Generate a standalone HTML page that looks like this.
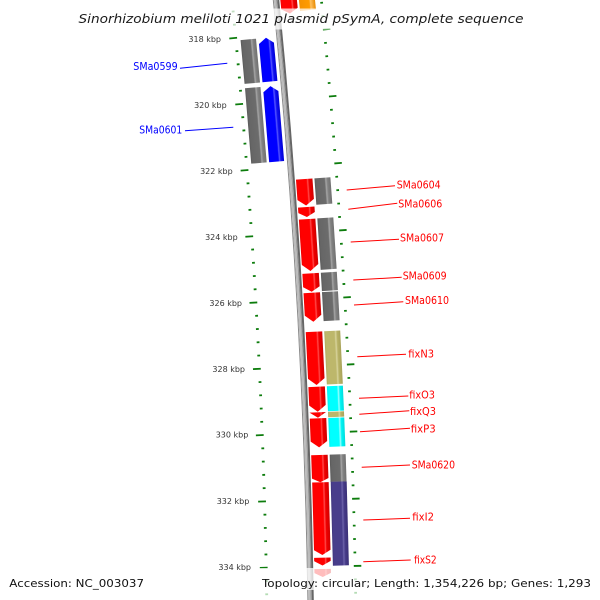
<!DOCTYPE html>
<html><head><meta charset="utf-8"><style>
html,body{margin:0;padding:0;background:#fff;width:600px;height:600px;overflow:hidden;}
svg{display:block;overflow:hidden;}
</style></head><body>
<svg width="600" height="600" viewBox="0 0 600 600" xmlns="http://www.w3.org/2000/svg">
<defs>
<clipPath id="frame"><rect x="0" y="0" width="600" height="600"/></clipPath>
<linearGradient id="gR" x1="0" y1="0" x2="1" y2="0"><stop offset="0" stop-color="#ee0000"/><stop offset="0.08" stop-color="#ff0000"/><stop offset="0.62" stop-color="#ff0000"/><stop offset="0.7" stop-color="#ff4d4d"/><stop offset="0.78" stop-color="#f00000"/><stop offset="1" stop-color="#d00000"/></linearGradient>
<linearGradient id="gG" x1="0" y1="0" x2="1" y2="0"><stop offset="0" stop-color="#5a5a5a"/><stop offset="0.1" stop-color="#666"/><stop offset="0.62" stop-color="#6c6c6c"/><stop offset="0.7" stop-color="#a6a6a6"/><stop offset="0.8" stop-color="#828282"/><stop offset="1" stop-color="#707070"/></linearGradient>
<linearGradient id="gB" x1="0" y1="0" x2="1" y2="0"><stop offset="0" stop-color="#0000e6"/><stop offset="0.1" stop-color="#0000ff"/><stop offset="0.62" stop-color="#0000ff"/><stop offset="0.7" stop-color="#5858ff"/><stop offset="0.8" stop-color="#1010f0"/><stop offset="1" stop-color="#0000d6"/></linearGradient>
<linearGradient id="gK" x1="0" y1="0" x2="1" y2="0"><stop offset="0" stop-color="#b0aa5e"/><stop offset="0.1" stop-color="#bdb76b"/><stop offset="0.62" stop-color="#bdb76b"/><stop offset="0.7" stop-color="#d8d49c"/><stop offset="0.8" stop-color="#b8b266"/><stop offset="1" stop-color="#a9a35a"/></linearGradient>
<linearGradient id="gC" x1="0" y1="0" x2="1" y2="0"><stop offset="0" stop-color="#00eeee"/><stop offset="0.1" stop-color="#00ffff"/><stop offset="0.62" stop-color="#00ffff"/><stop offset="0.7" stop-color="#9effff"/><stop offset="0.8" stop-color="#00f4f4"/><stop offset="1" stop-color="#00dcdc"/></linearGradient>
<linearGradient id="gP" x1="0" y1="0" x2="1" y2="0"><stop offset="0" stop-color="#40367e"/><stop offset="0.1" stop-color="#483d8b"/><stop offset="0.62" stop-color="#483d8b"/><stop offset="0.7" stop-color="#6c63aa"/><stop offset="0.8" stop-color="#463b88"/><stop offset="1" stop-color="#3a3076"/></linearGradient>
<linearGradient id="gO" x1="0" y1="0" x2="1" y2="0"><stop offset="0" stop-color="#f59200"/><stop offset="0.62" stop-color="#ff9c00"/><stop offset="0.7" stop-color="#ffc060"/><stop offset="1" stop-color="#e88a00"/></linearGradient>
</defs>
<rect x="0" y="0" width="600" height="600" fill="#fff"/>

<g clip-path="url(#frame)">
<g transform="translate(-6883.2,713.7)">
  <!-- backbone (arcs limited to visible range) -->
  <g fill="none">
    <path d="M7156.50,-713.7 A7192,7192 0 0 1 7191.10,-113.7" stroke="#8a8a8a" stroke-width="1"/>
    <path d="M7158.11,-713.7 A7193.6,7193.6 0 0 1 7192.70,-113.7" stroke="#bcbcbc" stroke-width="2.2"/>
    <path d="M7159.82,-713.7 A7195.3,7195.3 0 0 1 7194.40,-113.7" stroke="#999999" stroke-width="1.2"/>
    <path d="M7161.43,-713.7 A7196.9,7196.9 0 0 1 7196.00,-113.7" stroke="#666666" stroke-width="2"/>
  </g>

  <!-- ticks -->
  <g fill="#0c7c0c">
    <g transform="rotate(-5.6356)"><rect x="7149.5" y="-0.9" width="2.8" height="1.8"/><rect x="7238.5" y="-0.9" width="2.7" height="1.8"/></g>
    <g transform="rotate(-5.5293)"><rect x="7149.5" y="-0.9" width="2.8" height="1.8"/><rect x="7238.5" y="-0.9" width="2.7" height="1.8"/></g>
    <g transform="rotate(-5.4229)"><rect x="7144.5" y="-0.9" width="7.8" height="1.8"/><rect x="7238.5" y="-0.9" width="7.5" height="1.8"/></g>
    <g transform="rotate(-5.3166)"><rect x="7149.5" y="-0.9" width="2.8" height="1.8"/><rect x="7238.5" y="-0.9" width="2.7" height="1.8"/></g>
    <g transform="rotate(-5.2103)"><rect x="7149.5" y="-0.9" width="2.8" height="1.8"/><rect x="7238.5" y="-0.9" width="2.7" height="1.8"/></g>
    <g transform="rotate(-5.1039)"><rect x="7149.5" y="-0.9" width="2.8" height="1.8"/><rect x="7238.5" y="-0.9" width="2.7" height="1.8"/></g>
    <g transform="rotate(-4.9976)"><rect x="7149.5" y="-0.9" width="2.8" height="1.8"/><rect x="7238.5" y="-0.9" width="2.7" height="1.8"/></g>
    <g transform="rotate(-4.8913)"><rect x="7144.5" y="-0.9" width="7.8" height="1.8"/><rect x="7238.5" y="-0.9" width="7.5" height="1.8"/></g>
    <g transform="rotate(-4.7849)"><rect x="7149.5" y="-0.9" width="2.8" height="1.8"/><rect x="7238.5" y="-0.9" width="2.7" height="1.8"/></g>
    <g transform="rotate(-4.6786)"><rect x="7149.5" y="-0.9" width="2.8" height="1.8"/><rect x="7238.5" y="-0.9" width="2.7" height="1.8"/></g>
    <g transform="rotate(-4.5723)"><rect x="7149.5" y="-0.9" width="2.8" height="1.8"/><rect x="7238.5" y="-0.9" width="2.7" height="1.8"/></g>
    <g transform="rotate(-4.4659)"><rect x="7149.5" y="-0.9" width="2.8" height="1.8"/><rect x="7238.5" y="-0.9" width="2.7" height="1.8"/></g>
    <g transform="rotate(-4.3596)"><rect x="7144.5" y="-0.9" width="7.8" height="1.8"/><rect x="7238.5" y="-0.9" width="7.5" height="1.8"/></g>
    <g transform="rotate(-4.2533)"><rect x="7149.5" y="-0.9" width="2.8" height="1.8"/><rect x="7238.5" y="-0.9" width="2.7" height="1.8"/></g>
    <g transform="rotate(-4.1469)"><rect x="7149.5" y="-0.9" width="2.8" height="1.8"/><rect x="7238.5" y="-0.9" width="2.7" height="1.8"/></g>
    <g transform="rotate(-4.0406)"><rect x="7149.5" y="-0.9" width="2.8" height="1.8"/><rect x="7238.5" y="-0.9" width="2.7" height="1.8"/></g>
    <g transform="rotate(-3.9343)"><rect x="7149.5" y="-0.9" width="2.8" height="1.8"/><rect x="7238.5" y="-0.9" width="2.7" height="1.8"/></g>
    <g transform="rotate(-3.8279)"><rect x="7144.5" y="-0.9" width="7.8" height="1.8"/><rect x="7238.5" y="-0.9" width="7.5" height="1.8"/></g>
    <g transform="rotate(-3.7216)"><rect x="7149.5" y="-0.9" width="2.8" height="1.8"/><rect x="7238.5" y="-0.9" width="2.7" height="1.8"/></g>
    <g transform="rotate(-3.6153)"><rect x="7149.5" y="-0.9" width="2.8" height="1.8"/><rect x="7238.5" y="-0.9" width="2.7" height="1.8"/></g>
    <g transform="rotate(-3.5089)"><rect x="7149.5" y="-0.9" width="2.8" height="1.8"/><rect x="7238.5" y="-0.9" width="2.7" height="1.8"/></g>
    <g transform="rotate(-3.4026)"><rect x="7149.5" y="-0.9" width="2.8" height="1.8"/><rect x="7238.5" y="-0.9" width="2.7" height="1.8"/></g>
    <g transform="rotate(-3.2963)"><rect x="7144.5" y="-0.9" width="7.8" height="1.8"/><rect x="7238.5" y="-0.9" width="7.5" height="1.8"/></g>
    <g transform="rotate(-3.1899)"><rect x="7149.5" y="-0.9" width="2.8" height="1.8"/><rect x="7238.5" y="-0.9" width="2.7" height="1.8"/></g>
    <g transform="rotate(-3.0836)"><rect x="7149.5" y="-0.9" width="2.8" height="1.8"/><rect x="7238.5" y="-0.9" width="2.7" height="1.8"/></g>
    <g transform="rotate(-2.9773)"><rect x="7149.5" y="-0.9" width="2.8" height="1.8"/><rect x="7238.5" y="-0.9" width="2.7" height="1.8"/></g>
    <g transform="rotate(-2.8709)"><rect x="7149.5" y="-0.9" width="2.8" height="1.8"/><rect x="7238.5" y="-0.9" width="2.7" height="1.8"/></g>
    <g transform="rotate(-2.7646)"><rect x="7144.5" y="-0.9" width="7.8" height="1.8"/><rect x="7238.5" y="-0.9" width="7.5" height="1.8"/></g>
    <g transform="rotate(-2.6583)"><rect x="7149.5" y="-0.9" width="2.8" height="1.8"/><rect x="7238.5" y="-0.9" width="2.7" height="1.8"/></g>
    <g transform="rotate(-2.5519)"><rect x="7149.5" y="-0.9" width="2.8" height="1.8"/><rect x="7238.5" y="-0.9" width="2.7" height="1.8"/></g>
    <g transform="rotate(-2.4456)"><rect x="7149.5" y="-0.9" width="2.8" height="1.8"/><rect x="7238.5" y="-0.9" width="2.7" height="1.8"/></g>
    <g transform="rotate(-2.3393)"><rect x="7149.5" y="-0.9" width="2.8" height="1.8"/><rect x="7238.5" y="-0.9" width="2.7" height="1.8"/></g>
    <g transform="rotate(-2.2329)"><rect x="7144.5" y="-0.9" width="7.8" height="1.8"/><rect x="7238.5" y="-0.9" width="7.5" height="1.8"/></g>
    <g transform="rotate(-2.1266)"><rect x="7149.5" y="-0.9" width="2.8" height="1.8"/><rect x="7238.5" y="-0.9" width="2.7" height="1.8"/></g>
    <g transform="rotate(-2.0203)"><rect x="7149.5" y="-0.9" width="2.8" height="1.8"/><rect x="7238.5" y="-0.9" width="2.7" height="1.8"/></g>
    <g transform="rotate(-1.9139)"><rect x="7149.5" y="-0.9" width="2.8" height="1.8"/><rect x="7238.5" y="-0.9" width="2.7" height="1.8"/></g>
    <g transform="rotate(-1.8076)"><rect x="7149.5" y="-0.9" width="2.8" height="1.8"/><rect x="7238.5" y="-0.9" width="2.7" height="1.8"/></g>
    <g transform="rotate(-1.7013)"><rect x="7144.5" y="-0.9" width="7.8" height="1.8"/><rect x="7238.5" y="-0.9" width="7.5" height="1.8"/></g>
    <g transform="rotate(-1.5949)"><rect x="7149.5" y="-0.9" width="2.8" height="1.8"/><rect x="7238.5" y="-0.9" width="2.7" height="1.8"/></g>
    <g transform="rotate(-1.4886)"><rect x="7149.5" y="-0.9" width="2.8" height="1.8"/><rect x="7238.5" y="-0.9" width="2.7" height="1.8"/></g>
    <g transform="rotate(-1.3823)"><rect x="7149.5" y="-0.9" width="2.8" height="1.8"/><rect x="7238.5" y="-0.9" width="2.7" height="1.8"/></g>
    <g transform="rotate(-1.2759)"><rect x="7149.5" y="-0.9" width="2.8" height="1.8"/><rect x="7238.5" y="-0.9" width="2.7" height="1.8"/></g>
    <g transform="rotate(-1.1696)"><rect x="7144.5" y="-0.9" width="7.8" height="1.8"/><rect x="7238.5" y="-0.9" width="7.5" height="1.8"/></g>
    <g transform="rotate(-1.0633)"><rect x="7149.5" y="-0.9" width="2.8" height="1.8"/><rect x="7238.5" y="-0.9" width="2.7" height="1.8"/></g>
    <g transform="rotate(-0.9569)" fill="#b4dcb4"><rect x="7149.5" y="-0.9" width="2.8" height="1.8"/><rect x="7238.5" y="-0.9" width="2.7" height="1.8"/></g>
  </g>

  <!-- top gene (partially visible) -->
  <g transform="rotate(-5.7084)">
    <polygon fill="url(#gR)" points="7199,-16.75 7215.5,-16.75 7215.5,11.75 7207.25,16.75 7199,11.75"/>
    <rect fill="url(#gO)" x="7217.5" y="-16.75" width="16" height="32"/>
  </g>

  <!-- inner (reverse strand) genes -->
  <g transform="rotate(-5.2254)">
    <rect fill="url(#gG)" x="7155.5" y="-22" width="15.5" height="44"/>
    <polygon fill="url(#gB)" points="7173.5,22 7188.5,22 7188.5,-16.5 7181,-22 7173.5,-16.5"/>
  </g>
  <g transform="rotate(-4.7116)">
    <rect fill="url(#gG)" x="7155.5" y="-37.85" width="15.5" height="75.7"/>
    <polygon fill="url(#gB)" points="7173.5,37.85 7188.5,37.85 7188.5,-32.35 7181,-37.85 7173.5,-32.35"/>
  </g>

  <!-- outer (forward strand) genes -->
  <g transform="rotate(-4.1486)">
    <polygon fill="url(#gR)" points="7199,-13.25 7215.5,-13.25 7215.5,7.25 7207.25,13.25 7199,7.25"/>
    <rect fill="url(#gG)" x="7217.5" y="-13.25" width="16" height="26.5"/>
  </g>
  <g transform="rotate(-3.9912)">
    <polygon fill="url(#gR)" points="7199,-5 7215.5,-5 7215.5,0.5 7207.25,5 7199,0.5"/>
  </g>
  <g transform="rotate(-3.7283)">
    <polygon fill="url(#gR)" points="7199,-26 7215.5,-26 7215.5,19.5 7207.25,26 7199,19.5"/>
    <rect fill="url(#gG)" x="7217.5" y="-26" width="16" height="51.5"/>
  </g>
  <g transform="rotate(-3.4296)">
    <polygon fill="url(#gR)" points="7199,-9.2 7215.5,-9.2 7215.5,4.2 7207.25,9.2 7199,4.2"/>
    <rect fill="url(#gG)" x="7217.5" y="-9.2" width="16" height="18.4"/>
  </g>
  <g transform="rotate(-3.2330)">
    <polygon fill="url(#gR)" points="7199,-14.5 7215.5,-14.5 7215.5,8 7207.25,14.5 7199,8"/>
    <rect fill="url(#gG)" x="7217.5" y="-14.5" width="16" height="29"/>
  </g>
  <g transform="rotate(-2.8258)">
    <polygon fill="url(#gR)" points="7199,-26.65 7215.5,-26.65 7215.5,20.15 7207.25,26.65 7199,20.15"/>
    <rect fill="url(#gK)" x="7217.5" y="-26.65" width="16" height="53.3"/>
  </g>
  <g transform="rotate(-2.5007)">
    <polygon fill="url(#gR)" points="7199,-12.5 7215.5,-12.5 7215.5,6 7207.25,12.5 7199,6"/>
    <rect fill="url(#gC)" x="7217.5" y="-12.5" width="16" height="25"/>
  </g>
  <g transform="rotate(-2.3750)">
    <polygon fill="url(#gR)" points="7199,-2.75 7215.5,-2.75 7207.25,2.75"/>
    <rect fill="url(#gK)" x="7217.5" y="-2.7" width="16" height="5.4"/>
  </g>
  <g transform="rotate(-2.2334)">
    <polygon fill="url(#gR)" points="7199,-14.5 7215.5,-14.5 7215.5,8.5 7207.25,14.5 7199,8.5"/>
    <rect fill="url(#gC)" x="7217.5" y="-14.5" width="16" height="29"/>
  </g>
  <g transform="rotate(-1.9483)">
    <polygon fill="url(#gR)" points="7199,-13.65 7215.5,-13.65 7215.5,9.65 7207.25,13.65 7199,9.65"/>
    <rect fill="url(#gG)" x="7217.5" y="-13.65" width="16" height="27.3"/>
  </g>
  <g transform="rotate(-1.5081)">
    <rect fill="url(#gP)" x="7217.5" y="-42" width="16" height="84"/>
  </g>
  <g transform="rotate(-1.5506)">
    <polygon fill="url(#gR)" points="7199,-36.35 7215.5,-36.35 7215.5,31.35 7207.25,36.35 7199,31.35"/>
  </g>
  <g transform="rotate(-1.2091)">
    <polygon fill="url(#gR)" points="7199,-3.9 7215.5,-3.9 7215.5,-0.6 7207.25,3.9 7199,-0.6"/>
  </g>
  <g transform="rotate(-1.1185)">
    <polygon fill="url(#gR)" points="7199,-4 7215.5,-4 7215.5,0 7207.25,4 7199,0"/>
  </g>
</g>
</g>

<!-- label lines -->
<g stroke="#ff0000" stroke-width="1" fill="none">
  <line x1="346.7" y1="190" x2="395" y2="185.7"/>
  <line x1="348.3" y1="209.3" x2="397.3" y2="203.3"/>
  <line x1="350.7" y1="242" x2="399" y2="239.3"/>
  <line x1="353.3" y1="280" x2="401.7" y2="277.3"/>
  <line x1="354" y1="305" x2="403.3" y2="301.7"/>
  <line x1="357.3" y1="356.7" x2="406" y2="354.3"/>
  <line x1="359" y1="398.3" x2="408.3" y2="396"/>
  <line x1="359.3" y1="414.3" x2="409.3" y2="410.7"/>
  <line x1="360" y1="431.7" x2="410" y2="428.3"/>
  <line x1="361.7" y1="467.3" x2="410" y2="465"/>
  <line x1="363.3" y1="520" x2="410" y2="518.3"/>
  <line x1="363.3" y1="561.7" x2="410.7" y2="560"/>
</g>
<g stroke="#0000ff" stroke-width="1" fill="none">
  <line x1="180" y1="68.3" x2="227.3" y2="63.3"/>
  <line x1="185" y1="130.7" x2="233.3" y2="127.3"/>
</g>

<!-- feature labels -->
<g font-family="DejaVu Sans, Liberation Sans, sans-serif" font-size="10.5" fill="#ff0000">
  <text x="396.7" y="188.3" textLength="44" lengthAdjust="spacingAndGlyphs">SMa0604</text>
  <text x="398.3" y="207.3" textLength="44" lengthAdjust="spacingAndGlyphs">SMa0606</text>
  <text x="400" y="241.7" textLength="44" lengthAdjust="spacingAndGlyphs">SMa0607</text>
  <text x="402.7" y="279.3" textLength="44" lengthAdjust="spacingAndGlyphs">SMa0609</text>
  <text x="405" y="304" textLength="44" lengthAdjust="spacingAndGlyphs">SMa0610</text>
  <text x="408.3" y="357.3" textLength="25.7" lengthAdjust="spacingAndGlyphs">fixN3</text>
  <text x="409.3" y="398.3" textLength="25.7" lengthAdjust="spacingAndGlyphs">fixO3</text>
  <text x="410" y="414.8" textLength="26" lengthAdjust="spacingAndGlyphs">fixQ3</text>
  <text x="410.7" y="432.3" textLength="25" lengthAdjust="spacingAndGlyphs">fixP3</text>
  <text x="411.7" y="468.3" textLength="43.3" lengthAdjust="spacingAndGlyphs">SMa0620</text>
  <text x="412.3" y="520.7" textLength="21.7" lengthAdjust="spacingAndGlyphs">fixI2</text>
  <text x="414" y="563.3" textLength="22.7" lengthAdjust="spacingAndGlyphs">fixS2</text>
</g>
<g font-family="DejaVu Sans, Liberation Sans, sans-serif" font-size="10.5" fill="#0000ff">
  <text x="133.3" y="70" textLength="44.4" lengthAdjust="spacingAndGlyphs">SMa0599</text>
  <text x="139.3" y="133.3" textLength="43" lengthAdjust="spacingAndGlyphs">SMa0601</text>
</g>

<!-- tick labels -->
<g font-family="DejaVu Sans, Liberation Sans, sans-serif" font-size="8" fill="#333" text-anchor="end">
  <text x="221" y="42.2">318 kbp</text>
  <text x="226.7" y="107.9">320 kbp</text>
  <text x="232.7" y="173.9">322 kbp</text>
  <text x="237.7" y="239.9">324 kbp</text>
  <text x="242" y="305.9">326 kbp</text>
  <text x="245" y="371.9">328 kbp</text>
  <text x="248.3" y="437.6">330 kbp</text>
  <text x="249.3" y="503.9">332 kbp</text>
  <text x="251" y="569.9">334 kbp</text>
</g>

<!-- legend overlays -->
<rect x="74" y="8.5" width="454" height="21" fill="#ffffff" fill-opacity="0.74"/>
<rect x="258" y="568" width="342" height="22" fill="#ffffff" fill-opacity="0.74"/>

<!-- title and footer -->
<text x="78.5" y="23" font-family="DejaVu Sans, Liberation Sans, sans-serif" font-style="italic" font-size="12" fill="#1a1a1a" textLength="445" lengthAdjust="spacingAndGlyphs">Sinorhizobium meliloti 1021 plasmid pSymA, complete sequence</text>
<text x="9.3" y="587" font-family="DejaVu Sans, Liberation Sans, sans-serif" font-size="11" fill="#111" textLength="134.7" lengthAdjust="spacingAndGlyphs">Accession: NC_003037</text>
<text x="262" y="587" font-family="DejaVu Sans, Liberation Sans, sans-serif" font-size="11" fill="#111" textLength="329" lengthAdjust="spacingAndGlyphs">Topology: circular; Length: 1,354,226 bp; Genes: 1,293</text>
</svg>
</body></html>
